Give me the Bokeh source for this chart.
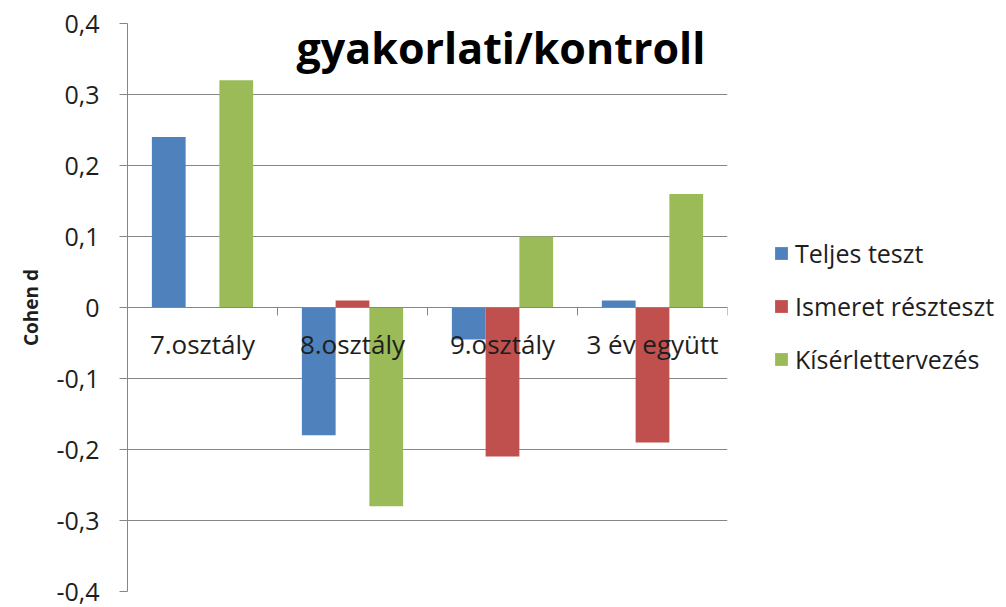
from bokeh.plotting import figure
from bokeh.models import (ColumnDataSource, Legend, LegendItem, FixedTicker,
                          CustomJSTickFormatter, Range1d, Label, Span)
from bokeh.core.properties import value
from bokeh.embed import file_html
from bokeh.resources import INLINE

categories = ["7.osztály", "8.osztály", "9.osztály", "3 év együtt"]
series_names = ["Teljes teszt", "Ismeret részteszt", "Kísérlettervezés"]
teljes = [0.24, -0.18, -0.045, 0.01]
ismeret = [0.0, 0.01, -0.21, -0.19]
kiserlet = [0.32, -0.28, 0.10, 0.16]
y_ticks = [-0.4, -0.3, -0.2, -0.1, 0.0, 0.1, 0.2, 0.3, 0.4]
colors = ["#4F81BD", "#C0504D", "#9BBB59"]

FONT = "Open Sans"
GRAY = "#868686"
TXT = "#1e1e1e"
FRAME_W, FRAME_H = 600, 568
YMIN, YMAX = -0.4, 0.4

p = figure(frame_width=FRAME_W, frame_height=FRAME_H, output_backend="svg", toolbar_location=None,
           x_range=Range1d(0, len(categories)), y_range=Range1d(YMIN, YMAX),
           min_border_left=127, min_border_right=270, min_border_top=23,
           min_border_bottom=15, outline_line_color=None)
p.xaxis.visible = False
p.xgrid.visible = False

centers = [i + 0.5 for i in range(len(categories))]
bw = 0.225
renderers = []
for k, vals in enumerate([teljes, ismeret, kiserlet]):
    src = ColumnDataSource(dict(x=[c + (k - 1) * bw for c in centers], top=vals))
    r = p.vbar(x="x", top="top", bottom=0, width=bw, source=src,
               fill_color=colors[k], line_color=None)
    renderers.append(r)

# y axis
p.yaxis.ticker = FixedTicker(ticks=y_ticks)
p.yaxis.formatter = CustomJSTickFormatter(
    code="return Math.abs(tick) < 1e-9 ? '0' : tick.toFixed(1).replace('.', ',');")
p.yaxis.axis_line_color = GRAY
p.yaxis.major_tick_line_color = GRAY
p.yaxis.major_tick_out = 8
p.yaxis.major_tick_in = 0
p.yaxis.minor_tick_line_color = None
p.yaxis.major_label_text_font = FONT
p.yaxis.major_label_text_font_size = "25px"
p.yaxis.major_label_text_color = TXT
p.yaxis.major_label_standoff = 20
p.yaxis.axis_label = "Cohen d"
p.yaxis.axis_label_text_font = FONT
p.yaxis.axis_label_text_font_style = "bold"
p.yaxis.axis_label_text_font_size = "19px"
p.yaxis.axis_label_text_color = TXT
p.yaxis.axis_label_standoff = 9

p.ygrid.ticker = FixedTicker(ticks=y_ticks)
p.ygrid.grid_line_color = GRAY
p.ygrid.grid_line_width = 1

# horizontal category axis crossing at zero, with tick marks at category boundaries
p.add_layout(Span(location=0, dimension="width", line_color=GRAY, line_width=1))
tick_len = 8 * (YMAX - YMIN) / FRAME_H
bounds = list(range(1, len(categories) + 1))
p.segment(x0=bounds, x1=bounds, y0=[0] * len(bounds), y1=[-tick_len] * len(bounds),
          line_color=GRAY, line_width=1)

p.text(x=centers, y=[0] * len(categories), text=categories, y_offset=36,
       text_align="center", text_baseline="middle", text_font=value(FONT),
       text_font_size="26px", text_color=TXT)

title = Label(x=169, y=544, x_units="screen", y_units="screen",
              text="gyakorlati/kontroll", text_font=FONT, text_font_style="bold",
              text_font_size="43px", text_color="#000000", text_baseline="alphabetic")
p.add_layout(title)

legend = Legend(items=[LegendItem(label=n, renderers=[r]) for n, r in zip(series_names, renderers)],
                location=(46, 215), border_line_color=None, background_fill_alpha=0,
                label_text_font=FONT, label_text_font_size="25px", label_text_color=TXT,
                glyph_width=16, glyph_height=16, label_height=16, spacing=19,
                label_standoff=6, padding=0, margin=0)
p.add_layout(legend, "right")

open("out.html", "w").write(file_html(p, INLINE))
